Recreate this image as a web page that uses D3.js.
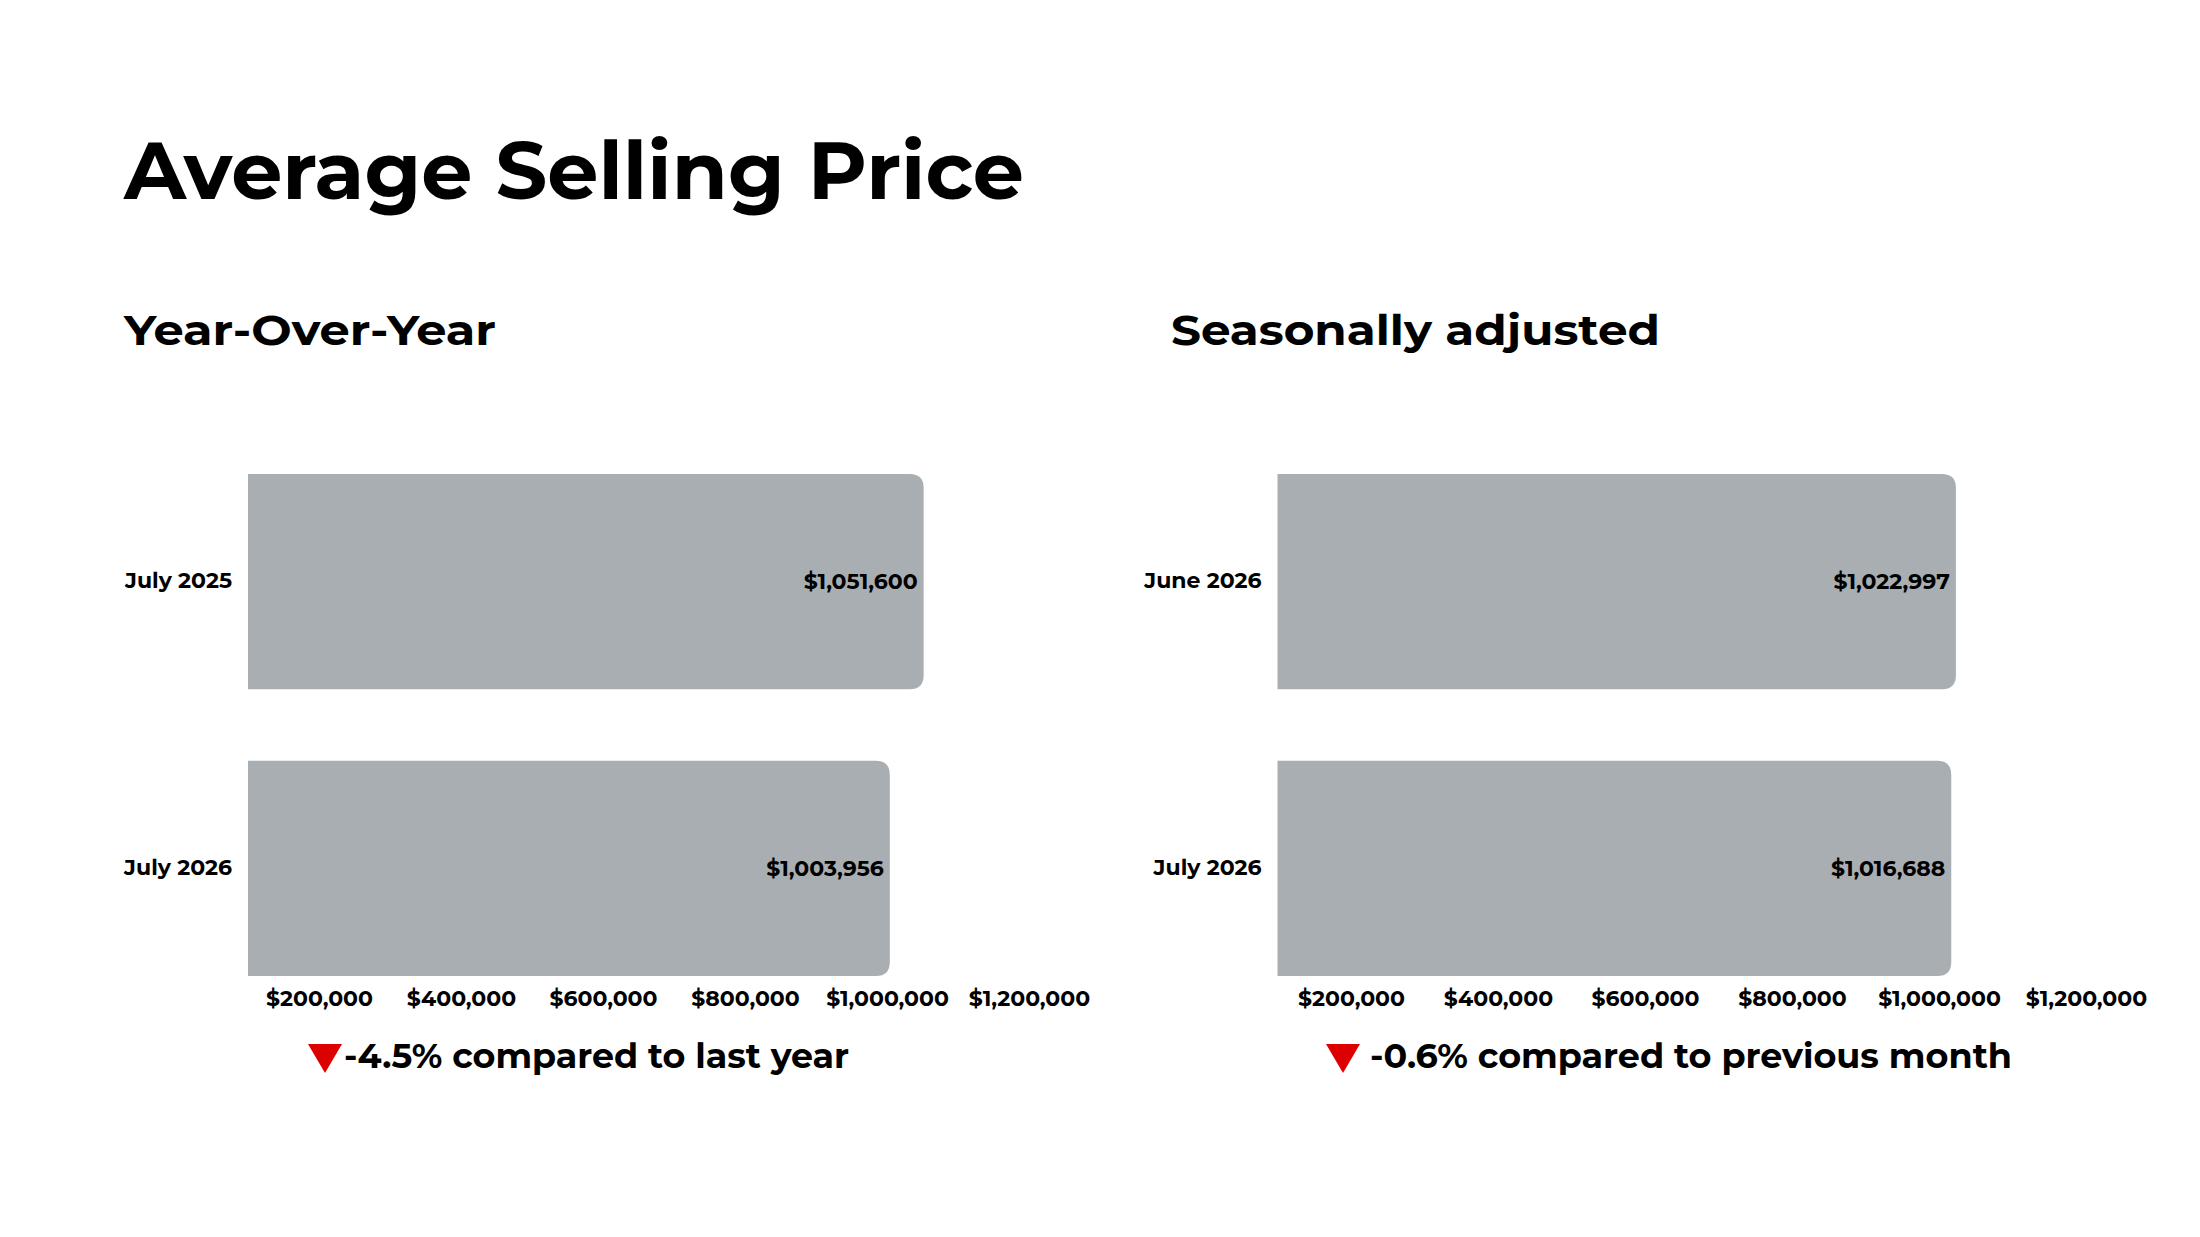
<!DOCTYPE html>
<html>
<head>
<meta charset="utf-8">
<script src="https://cdn.jsdelivr.net/npm/d3@7"></script>
<style>
  html, body { margin: 0; padding: 0; background: #fff; }
  svg text { font-family: Montserrat, Inter, 'Open Sans', sans-serif; font-weight: 700; fill: #000; }
</style>
</head>
<body>
<svg id="chart" width="2200" height="1237"></svg>
<script>
// data
const yoyCategories = ['July 2025', 'July 2026'];
const yoyValues = [1051600, 1003956];
const saCategories = ['June 2026', 'July 2026'];
const saValues = [1022997, 1016688];
const tickValues = [200000, 400000, 600000, 800000, 1000000, 1200000];
const xDomain = [100000, 1200000];
const yoyChange = -4.5;
const saChange = -0.6;

const svg = d3.select('#chart');
const money = (d) => `$${d3.format(',')(d)}`;

svg.append('text')
  .attr('x', 124)
  .attr('y', 199)
  .attr('font-size', 80)
  .attr('textLength', 900)
  .attr('lengthAdjust', 'spacingAndGlyphs')
  .text('Average Selling Price');

// rect with rounded right corners only
const barPath = (x0, x1, y, h, r) => {
  const rr = Math.min(r, (x1 - x0) / 2, h / 2);
  return `M${x0},${y}H${x1 - rr}Q${x1},${y} ${x1},${y + rr}`
    + `V${y + h - rr}Q${x1},${y + h} ${x1 - rr},${y + h}H${x0}Z`;
};

const drawPanel = (opts) => {
  const g = svg.append('g');

  g.append('text')
    .attr('x', opts.titleX)
    .attr('y', 345)
    .attr('font-size', 42)
    .attr('textLength', opts.titleLen)
    .attr('lengthAdjust', 'spacingAndGlyphs')
    .text(opts.title);

  const scaleX = d3.scaleLinear().domain(xDomain).range(opts.range);
  const scaleY = d3.scaleBand()
    .domain(opts.categories)
    .range([474, 976])
    .paddingInner(0.25)
    .paddingOuter(0);

  const rows = opts.categories.map((c, i) => ({ c, v: opts.values[i] }));

  g.selectAll('.bar')
    .data(rows)
    .enter()
    .append('path')
    .attr('class', 'bar')
    .attr('fill', '#a9aeb2')
    .attr('d', (d) => barPath(scaleX(xDomain[0]), scaleX(d.v), scaleY(d.c), scaleY.bandwidth(), 14));

  g.selectAll('.val')
    .data(rows)
    .enter()
    .append('text')
    .attr('class', 'val')
    .attr('x', (d) => scaleX(d.v) - 6)
    .attr('y', (d) => scaleY(d.c) + scaleY.bandwidth() / 2)
    .attr('dy', '0.35em')
    .attr('text-anchor', 'end')
    .attr('font-size', 22)
    .text((d) => money(d.v));

  const yAxis = g.append('g')
    .attr('transform', `translate(${opts.range[0] - 16},0)`)
    .call(d3.axisLeft(scaleY).tickSize(0).tickPadding(0));
  yAxis.select('.domain').remove();
  yAxis.selectAll('text')
    .attr('font-size', 22)
    .attr('font-family', null)
    .attr('dy', '0.3em')
    .style('fill', '#000');

  const xAxis = g.append('g')
    .attr('transform', 'translate(0,976)')
    .call(d3.axisBottom(scaleX).tickValues(tickValues).tickFormat(money).tickSize(0).tickPadding(14));
  xAxis.select('.domain').remove();
  xAxis.selectAll('text')
    .attr('font-size', 22)
    .attr('font-family', null)
    .style('fill', '#000');

  // change note with a down triangle
  const tx = opts.triX;
  g.append('path')
    .attr('fill', '#dd0000')
    .attr('d', `M${tx},1044H${tx + 34}L${tx + 17},1073Z`);

  g.append('text')
    .attr('x', opts.noteX)
    .attr('y', 1068)
    .attr('font-size', 34)
    .attr('textLength', opts.noteLen)
    .attr('lengthAdjust', 'spacingAndGlyphs')
    .text(`${opts.change}% compared to ${opts.noteTail}`);
};

drawPanel({
  title: 'Year-Over-Year',
  titleX: 124,
  titleLen: 372,
  categories: yoyCategories,
  values: yoyValues,
  range: [248, 1029],
  change: yoyChange,
  noteTail: 'last year',
  triX: 308,
  noteX: 344,
  noteLen: 505,
});

drawPanel({
  title: 'Seasonally adjusted',
  titleX: 1171,
  titleLen: 489,
  categories: saCategories,
  values: saValues,
  range: [1277.5, 2086],
  change: saChange,
  noteTail: 'previous month',
  triX: 1326,
  noteX: 1370,
  noteLen: 642,
});
</script>
</body>
</html>
